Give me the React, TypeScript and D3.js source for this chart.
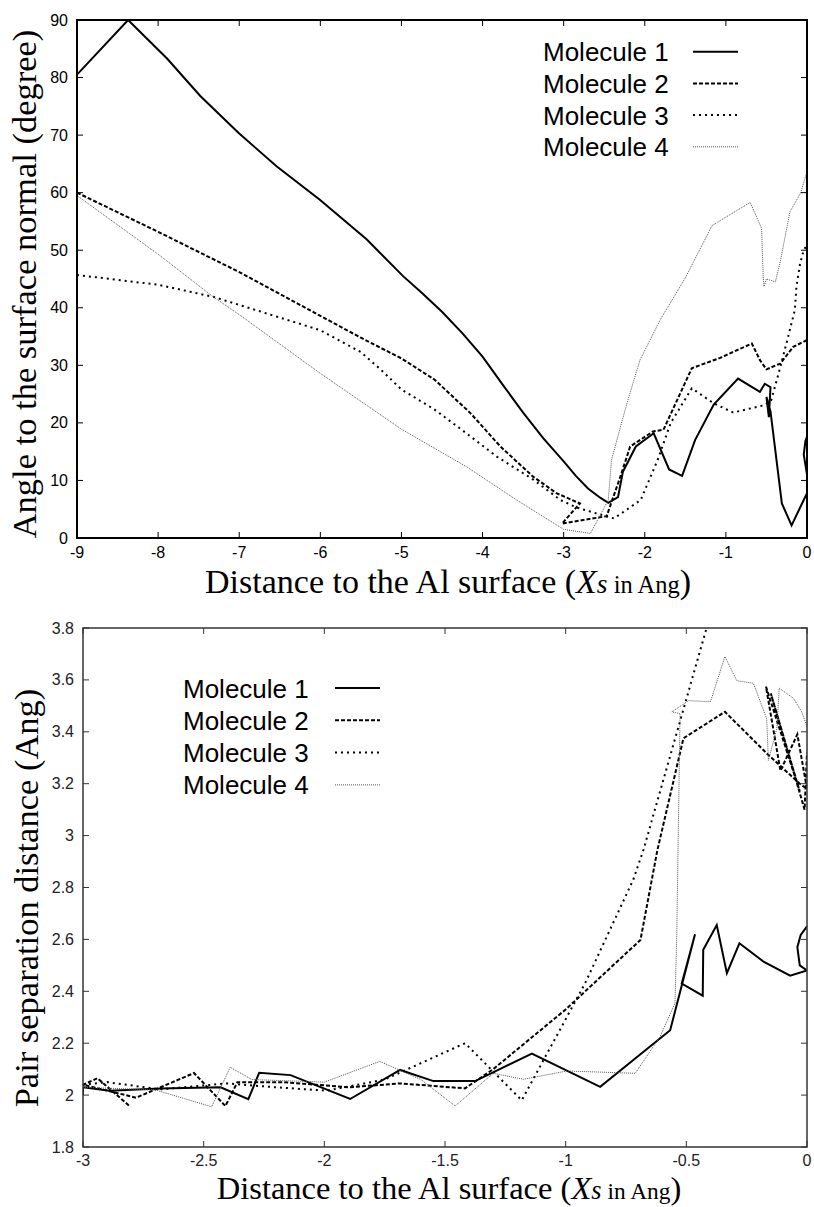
import React from 'react';
import * as d3 from 'd3';

type Pt = [number, number];

// ---- top panel: angle to the surface normal (degree) vs distance ----
const topMol1: Pt[] = [
  [-9, 80.5], [-8.37, 90], [-7.89, 83.3], [-7.48, 76.8], [-7.01, 70.4], [-6.54, 64.6],
  [-6.01, 58.8], [-5.43, 51.9], [-4.98, 45.5], [-4.75, 42.6], [-4.5, 39.3], [-4.25, 35.6],
  [-4, 31.5], [-3.75, 26.6], [-3.5, 21.8], [-3.25, 17.3], [-3, 13.3], [-2.85, 10.8],
  [-2.7, 8.6], [-2.55, 7], [-2.45, 6.1], [-2.33, 7.1], [-2.27, 11.5], [-2.11, 15.9],
  [-1.89, 18.2], [-1.7, 11.9], [-1.54, 10.8], [-1.38, 17], [-1.15, 23.2], [-0.85, 27.7],
  [-0.58, 25.4], [-0.52, 26.8], [-0.45, 26.2], [-0.47, 21], [-0.5, 24.5], [-0.45, 22],
  [-0.31, 6], [-0.19, 2.2], [0, 7.8], [0, 11], [-0.04, 14.5], [-0.02, 16.8], [0, 17.6],
];
const topMol2: Pt[] = [
  [-9, 60], [-8, 53.2], [-7, 46.2], [-6, 38.6], [-5.5, 34.8], [-5, 31.2], [-4.59, 27.5],
  [-4.15, 21.7], [-3.78, 15.9], [-3.38, 10.7], [-3.09, 7.8], [-2.8, 6], [-3.02, 2.5],
  [-2.47, 3.8], [-2.3, 10.7], [-2.18, 15.9], [-1.9, 18.5], [-1.77, 18.8], [-1.42, 29.5],
  [-1.07, 31.3], [-0.68, 33.8], [-0.58, 30.9], [-0.5, 29.3], [-0.33, 30.3], [-0.17, 33.2],
  [0, 34.4],
];
const topMol3: Pt[] = [
  [-9, 45.7], [-8, 44], [-7.32, 41.9], [-7, 40.5], [-6, 36.1], [-5.5, 32.3], [-5.25, 29.2],
  [-5, 25.8], [-4.6, 22.4], [-4.2, 18.2], [-3.82, 14.1], [-3.37, 10.1], [-3.04, 6.6],
  [-2.84, 5.3], [-2.46, 3.7], [-2.38, 3.4], [-2.05, 6.6], [-1.84, 13.6], [-1.68, 20],
  [-1.42, 26], [-1.15, 23.4], [-0.91, 21.8], [-0.52, 23.1], [-0.44, 24], [-0.35, 28.6],
  [-0.25, 34], [-0.15, 39.6], [-0.13, 43.7], [-0.085, 47.7], [-0.04, 50], [0, 51],
];
const topMol4: Pt[] = [
  [-9, 59.5], [-8, 49.3], [-7.32, 41.9], [-7, 38.8], [-6, 28.6], [-5, 18.9], [-4.2, 12.4],
  [-3.58, 6.6], [-3, 1.5], [-2.67, 0.8], [-2.45, 6.6], [-2.41, 13.6], [-2.22, 23.4],
  [-2.06, 30.9], [-1.81, 37.9], [-1.5, 45.2], [-1.17, 54.3], [-0.7, 58.3], [-0.56, 53.8],
  [-0.54, 45.4], [-0.53, 43.7], [-0.5, 45], [-0.39, 44.5], [-0.33, 48], [-0.21, 56.7],
  [-0.08, 59.9], [0, 63.6],
];

// ---- bottom panel: pair separation distance (Ang) vs distance ----
const botMol1: Pt[] = [
  [-3, 2.0], [-3, 2.03], [-2.89, 2.017], [-2.68, 2.025], [-2.43, 2.03], [-2.315, 1.984],
  [-2.27, 2.086], [-2.14, 2.077], [-1.893, 1.985], [-1.686, 2.097], [-1.548, 2.054],
  [-1.375, 2.054], [-1.14, 2.16], [-0.857, 2.032], [-0.567, 2.25], [-0.464, 2.62],
  [-0.519, 2.43], [-0.432, 2.383], [-0.43, 2.56], [-0.374, 2.655], [-0.332, 2.47],
  [-0.28, 2.585], [-0.18, 2.514], [-0.07, 2.46], [0, 2.48], [-0.03, 2.5], [-0.04, 2.57],
  [-0.026, 2.617], [0, 2.65],
];
const botMol2: Pt[] = [
  [-2.81, 1.96], [-2.94, 2.065], [-3, 2.04], [-2.78, 1.99], [-2.54, 2.085], [-2.41, 1.958],
  [-2.36, 2.05], [-2.17, 2.05], [-1.9, 2.03], [-1.686, 2.045], [-1.417, 2.026], [-1.3, 2.1],
  [-1.0, 2.33], [-0.69, 2.598], [-0.62, 2.944], [-0.512, 3.375], [-0.34, 3.477],
  [-0.167, 3.317], [-0.03, 3.2], [0, 3.18], [-0.04, 3.39], [-0.11, 3.25], [-0.17, 3.574],
  [-0.03, 3.17], [-0.15, 3.548], [-0.01, 3.1], [0, 3.32],
];
const botMol3: Pt[] = [
  [-3, 2.04], [-2.9, 2.05], [-2.68, 2.022], [-2.405, 2.045], [-2.2, 2.03], [-1.99, 2.017],
  [-1.75, 2.06], [-1.417, 2.2], [-1.182, 1.98], [-0.92, 2.43], [-0.72, 2.83],
  [-0.678, 2.944], [-0.41, 3.82],
];
const botMol4: Pt[] = [
  [-3, 2.03], [-2.7, 2.02], [-2.467, 1.955], [-2.39, 2.107], [-2.3, 2.06], [-2.0, 2.05],
  [-1.77, 2.13], [-1.6, 2.06], [-1.458, 1.958], [-1.3, 2.084], [-1.175, 2.061],
  [-0.995, 2.093], [-0.712, 2.084], [-0.609, 2.225], [-0.547, 2.354], [-0.54, 2.6],
  [-0.526, 3.47], [-0.56, 3.477], [-0.49, 3.52], [-0.4, 3.516], [-0.34, 3.69],
  [-0.291, 3.597], [-0.222, 3.587], [-0.167, 3.45], [-0.16, 3.29], [-0.125, 3.413],
  [-0.115, 3.568], [-0.056, 3.529], [-0.022, 3.477], [0, 3.42],
];

const legendLabels = ['Molecule 1', 'Molecule 2', 'Molecule 3', 'Molecule 4'];
const topXTicks = [-9, -8, -7, -6, -5, -4, -3, -2, -1, 0];
const topYTicks = [0, 10, 20, 30, 40, 50, 60, 70, 80, 90];
const botXTicks = [-3, -2.5, -2, -1.5, -1, -0.5, 0];
const botYTicks = [1.8, 2, 2.2, 2.4, 2.6, 2.8, 3, 3.2, 3.4, 3.6, 3.8];

// line styles for the four molecules
const styles = [
  { stroke: '#000', width: 2, dash: undefined as string | undefined },
  { stroke: '#000', width: 2, dash: '4,2' },
  { stroke: '#000', width: 2, dash: '2,4' },
  { stroke: '#555', width: 1, dash: '1,1' },
];

const SANS = '"Liberation Sans", Arial, Helvetica, sans-serif';
const SERIF = '"Liberation Serif", "Times New Roman", serif';

const XTitle = ({ x, y, size }: { x: number; y: number; size: number }) => (
  <text x={x} y={y} textAnchor="middle" fontFamily={SERIF} fontSize={size} fill="#000">
    Distance to the Al surface (
    <tspan fontStyle="italic">X</tspan>
    <tspan fontStyle="italic" fontSize={size * 0.81}>s</tspan>
    <tspan fontSize={size * 0.72}> in Ang</tspan>)
  </text>
);

const Panel = ({ id, box, xDomain, yDomain, xTicks, yTicks, series, legend, yTitle, yTitleCenter,
  frameColor, frameWidth, labelColor, xLabelGap }: any) => {
  const x = d3.scaleLinear().domain(xDomain).range([box.left, box.right]);
  const y = d3.scaleLinear().domain(yDomain).range([box.bottom, box.top]);
  const line = d3.line<Pt>().x(d => x(d[0])).y(d => y(d[1]));
  const tl = 6;
  return (
    <g>
      <defs>
        <clipPath id={id}>
          <rect x={box.left} y={box.top} width={box.right - box.left} height={box.bottom - box.top} />
        </clipPath>
      </defs>
      {/* series */}
      <g clipPath={`url(#${id})`}>
        {series.map((s: Pt[], i: number) => (
          <path key={i} d={line(s) || ''} fill="none" stroke={styles[i].stroke}
            strokeWidth={styles[i].width} strokeDasharray={styles[i].dash} strokeLinejoin="miter" />
        ))}
      </g>
      {/* frame */}
      <rect x={box.left} y={box.top} width={box.right - box.left} height={box.bottom - box.top}
        fill="none" stroke={frameColor} strokeWidth={frameWidth} />
      {/* ticks, mirrored on all four sides */}
      {xTicks.map((t: number) => (
        <g key={'x' + t}>
          <line x1={x(t)} x2={x(t)} y1={box.bottom} y2={box.bottom - tl} stroke={frameColor} strokeWidth={1} />
          <line x1={x(t)} x2={x(t)} y1={box.top} y2={box.top + tl} stroke={frameColor} strokeWidth={1} />
          <text x={x(t)} y={box.bottom + xLabelGap} textAnchor="middle" fontFamily={SANS} fontSize={16} fill={labelColor}>
            {String(t)}
          </text>
        </g>
      ))}
      {yTicks.map((t: number) => (
        <g key={'y' + t}>
          <line x1={box.left} x2={box.left + tl} y1={y(t)} y2={y(t)} stroke={frameColor} strokeWidth={1} />
          <line x1={box.right} x2={box.right - tl} y1={y(t)} y2={y(t)} stroke={frameColor} strokeWidth={1} />
          <text x={box.left - 9} y={y(t) + 5.5} textAnchor="end" fontFamily={SANS} fontSize={16} fill={labelColor}>
            {String(t)}
          </text>
        </g>
      ))}
      {/* legend */}
      {legendLabels.map((lab, i) => (
        <g key={lab}>
          <text x={legend.textX} y={legend.y0 + i * legend.dy + 9.5} fontFamily={SANS} fontSize={26} fill="#000">
            {lab}
          </text>
          <line x1={legend.lineX0} x2={legend.lineX1} y1={legend.y0 + i * legend.dy} y2={legend.y0 + i * legend.dy}
            stroke={styles[i].stroke} strokeWidth={styles[i].width} strokeDasharray={styles[i].dash} />
        </g>
      ))}
      {/* y title */}
      <text transform={`translate(${yTitle},${yTitleCenter}) rotate(-90)`} textAnchor="middle"
        fontFamily={SERIF} fontSize={34.5} fill="#000">
        {legend.title}
      </text>
    </g>
  );
};

export default function App() {
  return (
    <svg width={814} height={1207} style={{ position: 'absolute', left: 0, top: 0, background: '#fff' }}>
      <rect width={814} height={1207} fill="#fff" />
      <Panel
        id="clipTop"
        box={{ left: 77, right: 807, top: 20, bottom: 538 }}
        xDomain={[-9, 0]} yDomain={[0, 90]}
        xTicks={topXTicks} yTicks={topYTicks}
        series={[topMol1, topMol2, topMol3, topMol4]}
        legend={{ textX: 543, lineX0: 693, lineX1: 738, y0: 51.7, dy: 31.7, title: 'Angle to the surface normal (degree)' }}
        yTitle={36} yTitleCenter={284}
        frameColor="#000" frameWidth={2} labelColor="#000" xLabelGap={20}
      />
      <XTitle x={448} y={593} size={34} />
      <Panel
        id="clipBot"
        box={{ left: 83, right: 807, top: 628, bottom: 1147 }}
        xDomain={[-3, 0]} yDomain={[1.8, 3.8]}
        xTicks={botXTicks} yTicks={botYTicks}
        series={[botMol1, botMol2, botMol3, botMol4]}
        legend={{ textX: 183, lineX0: 335, lineX1: 380, y0: 688, dy: 32.3, title: 'Pair separation distance (Ang)' }}
        yTitle={38} yTitleCenter={898}
        frameColor="#333" frameWidth={1.5} labelColor="#222" xLabelGap={19}
      />
      <XTitle x={449} y={1199} size={32.5} />
    </svg>
  );
}
